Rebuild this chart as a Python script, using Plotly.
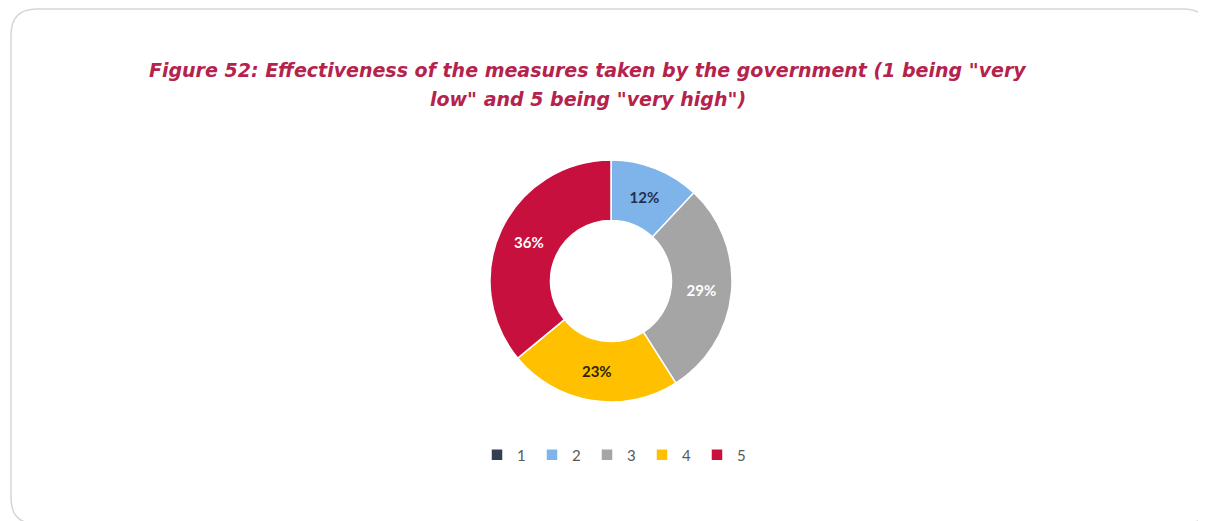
import plotly.graph_objects as go

categories = ["1", "2", "3", "4", "5"]
values = [0, 12, 29, 23, 36]
colors = ["#333F50", "#7EB4EA", "#A5A5A5", "#FFC000", "#C8103E"]
text_colors = ["#FFFFFF", "#1F2F4F", "#FFFFFF", "#2B2600", "#FFFFFF"]
title_lines = ['Figure 52: Effectiveness of the measures taken by the government (1 being "very',
               'low" and 5 being "very high")']

W, H = 1206, 521
OFF = 8  # page offset of the plot inside the browser window
labels_txt = [f"{v}%" if v else "" for v in values]

cx, cy, R = 611 - OFF, 281 - OFF, 121

fig = go.Figure()
fig.add_trace(go.Pie(
    labels=categories,
    values=values,
    text=labels_txt,
    textinfo="text",
    hole=0.5,
    sort=False,
    direction="clockwise",
    rotation=0,
    marker=dict(colors=colors, line=dict(color="#FFFFFF", width=1.5)),
    textfont=dict(family="Lato", size=15, color=text_colors, weight="bold"),
    insidetextorientation="horizontal",
    textposition="inside",
    hoverinfo="label+percent",
    domain=dict(x=[(cx - R) / W, (cx + R) / W],
                y=[(H - cy - R) / H, (H - cy + R) / H]),
))

# rounded frame
x0, x1 = (11 - OFF) / W, (1209 - OFF) / W
y0, y1 = 1 - (524 - OFF) / H, 1 - (9 - OFF) / H
rx, ry = 26 / W, 26 / H
path = (f"M {x0+rx},{y1} L {x1-rx},{y1} Q {x1},{y1} {x1},{y1-ry} "
        f"L {x1},{y0+ry} Q {x1},{y0} {x1-rx},{y0} L {x0+rx},{y0} "
        f"Q {x0},{y0} {x0},{y0+ry} L {x0},{y1-ry} Q {x0},{y1} {x0+rx},{y1} Z")

title_font = dict(family="DejaVu Sans", size=19, color="#B5234D",
                  weight="bold", style="italic")
annotations = []
for line, ymid in zip(title_lines, [70, 99]):
    annotations.append(dict(text=line, xref="paper", yref="paper",
                            x=(588 - OFF) / W, y=1 - (ymid - OFF) / H,
                            xanchor="center", yanchor="middle",
                            showarrow=False, font=title_font))

fig.update_layout(
    width=W, height=H,
    margin=dict(l=0, r=0, t=0, b=0),
    paper_bgcolor="#FFFFFF",
    plot_bgcolor="#FFFFFF",
    shapes=[dict(type="path", xref="paper", yref="paper", path=path,
                 line=dict(color="#D6D6D6", width=1.5), layer="below")],
    annotations=annotations,
    showlegend=True,
    legend=dict(orientation="h", x=(614.5 - OFF) / W, xanchor="center",
                y=1 - (455 - OFF) / H, yanchor="middle",
                font=dict(family="Lato", size=15, color="#595959"),
                entrywidth=10, entrywidthmode="pixels",
                traceorder="normal"),
)

fig.write_html("out.html")
